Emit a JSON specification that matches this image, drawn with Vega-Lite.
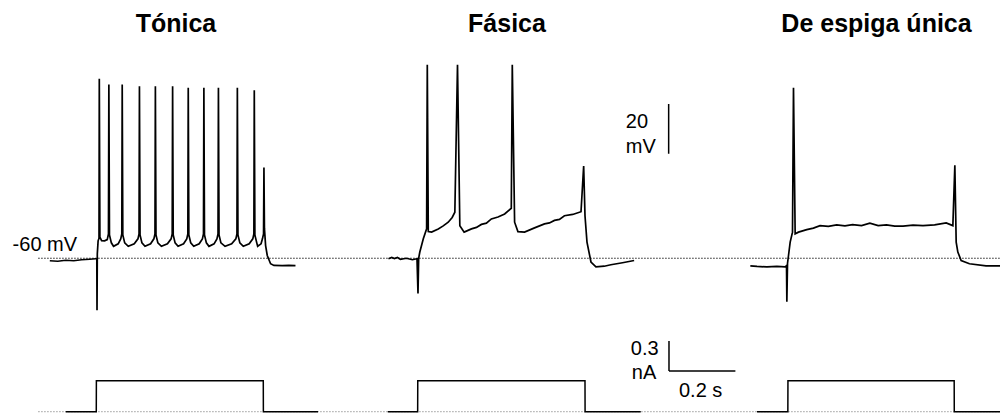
{
  "$schema": "https://vega.github.io/schema/vega-lite/v6.json",
  "width": 1004,
  "height": 415,
  "padding": 0,
  "autosize": {"type": "fit", "contains": "padding"},
  "background": "white",
  "config": {"view": {"stroke": null}},
  "datasets": {
    "vm": [
      {"panel": "Tónica", "t": 150, "v": -61.0}, {"panel": "Tónica", "t": 174, "v": -61.2}, {"panel": "Tónica", "t": 198, "v": -60.8},
      {"panel": "Tónica", "t": 222, "v": -61.0}, {"panel": "Tónica", "t": 246, "v": -60.6}, {"panel": "Tónica", "t": 270, "v": -60.4},
      {"panel": "Tónica", "t": 288, "v": -60.2}, {"panel": "Tónica", "t": 291.6, "v": -60.2}, {"panel": "Tónica", "t": 292.2, "v": -80.9},
      {"panel": "Tónica", "t": 293.1, "v": -58.2}, {"panel": "Tónica", "t": 295.5, "v": -53.0}, {"panel": "Tónica", "t": 298.2, "v": -52.0},
      {"panel": "Tónica", "t": 299.1, "v": 12.1}, {"panel": "Tónica", "t": 300.9, "v": -51.5}, {"panel": "Tónica", "t": 306, "v": -52.9},
      {"panel": "Tónica", "t": 315, "v": -53.0}, {"panel": "Tónica", "t": 323, "v": -52.5}, {"panel": "Tónica", "t": 326.7, "v": -50.2},
      {"panel": "Tónica", "t": 327.9, "v": 9.8}, {"panel": "Tónica", "t": 329.7, "v": -50.6}, {"panel": "Tónica", "t": 335.4, "v": -53.8},
      {"panel": "Tónica", "t": 342.0, "v": -55.2}, {"panel": "Tónica", "t": 356.0, "v": -54.2}, {"panel": "Tónica", "t": 363.6, "v": -52.2},
      {"panel": "Tónica", "t": 366.9, "v": -50.2}, {"panel": "Tónica", "t": 368.1, "v": 9.8}, {"panel": "Tónica", "t": 369.9, "v": -50.6},
      {"panel": "Tónica", "t": 375.6, "v": -53.8}, {"panel": "Tónica", "t": 386.3, "v": -55.2}, {"panel": "Tónica", "t": 404.4, "v": -54.2},
      {"panel": "Tónica", "t": 415.5, "v": -52.2}, {"panel": "Tónica", "t": 418.8, "v": -50.2}, {"panel": "Tónica", "t": 420, "v": 9.1},
      {"panel": "Tónica", "t": 421.8, "v": -50.6}, {"panel": "Tónica", "t": 427.5, "v": -53.8}, {"panel": "Tónica", "t": 436.8, "v": -55.2},
      {"panel": "Tónica", "t": 453.6, "v": -54.2}, {"panel": "Tónica", "t": 463.5, "v": -52.2}, {"panel": "Tónica", "t": 466.8, "v": -50.2},
      {"panel": "Tónica", "t": 468, "v": 9.1}, {"panel": "Tónica", "t": 469.8, "v": -50.6}, {"panel": "Tónica", "t": 475.5, "v": -53.8},
      {"panel": "Tónica", "t": 486.2, "v": -55.2}, {"panel": "Tónica", "t": 504.3, "v": -54.2}, {"panel": "Tónica", "t": 515.4, "v": -52.2},
      {"panel": "Tónica", "t": 518.7, "v": -50.2}, {"panel": "Tónica", "t": 519.9, "v": 9.1}, {"panel": "Tónica", "t": 521.7, "v": -50.6},
      {"panel": "Tónica", "t": 527.4, "v": -53.8}, {"panel": "Tónica", "t": 536.4, "v": -55.2}, {"panel": "Tónica", "t": 552.9, "v": -54.2},
      {"panel": "Tónica", "t": 562.5, "v": -52.2}, {"panel": "Tónica", "t": 565.8, "v": -50.2}, {"panel": "Tónica", "t": 567, "v": 8.5},
      {"panel": "Tónica", "t": 568.8, "v": -50.6}, {"panel": "Tónica", "t": 574.5, "v": -53.8}, {"panel": "Tónica", "t": 583.5, "v": -55.2},
      {"panel": "Tónica", "t": 600.0, "v": -54.2}, {"panel": "Tónica", "t": 609.6, "v": -52.2}, {"panel": "Tónica", "t": 612.9, "v": -50.2},
      {"panel": "Tónica", "t": 614.1, "v": 8.5}, {"panel": "Tónica", "t": 615.9, "v": -50.6}, {"panel": "Tónica", "t": 621.6, "v": -53.8},
      {"panel": "Tónica", "t": 629.4, "v": -55.2}, {"panel": "Tónica", "t": 644.8, "v": -54.2}, {"panel": "Tónica", "t": 653.4, "v": -52.2},
      {"panel": "Tónica", "t": 656.7, "v": -50.2}, {"panel": "Tónica", "t": 657.9, "v": 8.5}, {"panel": "Tónica", "t": 659.7, "v": -50.6},
      {"panel": "Tónica", "t": 665.4, "v": -53.8}, {"panel": "Tónica", "t": 677.9, "v": -55.2}, {"panel": "Tónica", "t": 697.8, "v": -54.2},
      {"panel": "Tónica", "t": 710.4, "v": -52.2}, {"panel": "Tónica", "t": 713.7, "v": -50.2}, {"panel": "Tónica", "t": 714.9, "v": 8.5},
      {"panel": "Tónica", "t": 716.7, "v": -50.6}, {"panel": "Tónica", "t": 722.4, "v": -53.8}, {"panel": "Tónica", "t": 732.8, "v": -55.2},
      {"panel": "Tónica", "t": 750.6, "v": -54.2}, {"panel": "Tónica", "t": 761.4, "v": -52.2}, {"panel": "Tónica", "t": 764.7, "v": -50.2},
      {"panel": "Tónica", "t": 765.9, "v": 7.5}, {"panel": "Tónica", "t": 767.7, "v": -50.6}, {"panel": "Tónica", "t": 773.4, "v": -53.8},
      {"panel": "Tónica", "t": 776.1, "v": -55.2}, {"panel": "Tónica", "t": 786.3, "v": -54.2}, {"panel": "Tónica", "t": 790.5, "v": -52.2},
      {"panel": "Tónica", "t": 793.8, "v": -50.2}, {"panel": "Tónica", "t": 795, "v": -23.5}, {"panel": "Tónica", "t": 796.5, "v": -48.0},
      {"panel": "Tónica", "t": 800, "v": -54.9}, {"panel": "Tónica", "t": 805, "v": -58.9}, {"panel": "Tónica", "t": 815, "v": -62.2},
      {"panel": "Tónica", "t": 825, "v": -62.9}, {"panel": "Tónica", "t": 850, "v": -63.0}, {"panel": "Tónica", "t": 870, "v": -62.9},
      {"panel": "Tónica", "t": 890, "v": -63.0},

      {"panel": "Fásica", "t": 1170, "v": -60.2}, {"panel": "Fásica", "t": 1180, "v": -59.7}, {"panel": "Fásica", "t": 1188, "v": -60.1},
      {"panel": "Fásica", "t": 1197, "v": -59.7}, {"panel": "Fásica", "t": 1206, "v": -60.4},
      {"panel": "Fásica", "t": 1224, "v": -60.0}, {"panel": "Fásica", "t": 1242, "v": -60.6}, {"panel": "Fásica", "t": 1256, "v": -60.2},
      {"panel": "Fásica", "t": 1259, "v": -74.2}, {"panel": "Fásica", "t": 1261, "v": -60.0}, {"panel": "Fásica", "t": 1264.5, "v": -57.5},
      {"panel": "Fásica", "t": 1275, "v": -52.2}, {"panel": "Fásica", "t": 1285, "v": -48.2}, {"panel": "Fásica", "t": 1287, "v": 17.8},
      {"panel": "Fásica", "t": 1290, "v": -49.3}, {"panel": "Fásica", "t": 1300, "v": -49.5}, {"panel": "Fásica", "t": 1320, "v": -48.2},
      {"panel": "Fásica", "t": 1335, "v": -47.0}, {"panel": "Fásica", "t": 1350, "v": -45.5}, {"panel": "Fásica", "t": 1362, "v": -43.6},
      {"panel": "Fásica", "t": 1370, "v": -41.5}, {"panel": "Fásica", "t": 1378, "v": 17.8}, {"panel": "Fásica", "t": 1385, "v": -46.9},
      {"panel": "Fásica", "t": 1398, "v": -49.5}, {"panel": "Fásica", "t": 1420, "v": -48.2}, {"panel": "Fásica", "t": 1435, "v": -47.6},
      {"panel": "Fásica", "t": 1450, "v": -46.4}, {"panel": "Fásica", "t": 1465, "v": -45.9},
      {"panel": "Fásica", "t": 1480, "v": -44.2}, {"panel": "Fásica", "t": 1500, "v": -43.4}, {"panel": "Fásica", "t": 1520, "v": -42.2},
      {"panel": "Fásica", "t": 1540, "v": -39.9}, {"panel": "Fásica", "t": 1543, "v": 17.8}, {"panel": "Fásica", "t": 1550, "v": -45.5},
      {"panel": "Fásica", "t": 1560, "v": -49.3}, {"panel": "Fásica", "t": 1580, "v": -49.5}, {"panel": "Fásica", "t": 1610, "v": -47.8},
      {"panel": "Fásica", "t": 1640, "v": -46.2}, {"panel": "Fásica", "t": 1655, "v": -45.8}, {"panel": "Fásica", "t": 1670, "v": -44.8},
      {"panel": "Fásica", "t": 1685, "v": -44.4}, {"panel": "Fásica", "t": 1700, "v": -42.9},
      {"panel": "Fásica", "t": 1725, "v": -42.4}, {"panel": "Fásica", "t": 1750, "v": -41.3}, {"panel": "Fásica", "t": 1758, "v": -22.9},
      {"panel": "Fásica", "t": 1762, "v": -42.9}, {"panel": "Fásica", "t": 1768, "v": -53.5}, {"panel": "Fásica", "t": 1780, "v": -61.5},
      {"panel": "Fásica", "t": 1795, "v": -63.5}, {"panel": "Fásica", "t": 1820, "v": -63.2}, {"panel": "Fásica", "t": 1840, "v": -62.6},
      {"panel": "Fásica", "t": 1875, "v": -61.8}, {"panel": "Fásica", "t": 1910, "v": -60.9},

      {"panel": "De espiga única", "t": 2260, "v": -63.1}, {"panel": "De espiga única", "t": 2280, "v": -63.3}, {"panel": "De espiga única", "t": 2310, "v": -63.5},
      {"panel": "De espiga única", "t": 2340, "v": -63.3}, {"panel": "De espiga única", "t": 2365, "v": -63.5}, {"panel": "De espiga única", "t": 2369, "v": -63.0},
      {"panel": "De espiga única", "t": 2370, "v": -77.5}, {"panel": "De espiga única", "t": 2372, "v": -62.0}, {"panel": "De espiga única", "t": 2375, "v": -58.9},
      {"panel": "De espiga única", "t": 2380, "v": -53.5}, {"panel": "De espiga única", "t": 2387, "v": -49.5}, {"panel": "De espiga única", "t": 2390, "v": 8.5},
      {"panel": "De espiga única", "t": 2395, "v": -50.2}, {"panel": "De espiga única", "t": 2405, "v": -49.5}, {"panel": "De espiga única", "t": 2430, "v": -48.5},
      {"panel": "De espiga única", "t": 2450, "v": -47.9}, {"panel": "De espiga única", "t": 2470, "v": -46.9}, {"panel": "De espiga única", "t": 2495, "v": -47.2},
      {"panel": "De espiga única", "t": 2520, "v": -46.6}, {"panel": "De espiga única", "t": 2545, "v": -47.0}, {"panel": "De espiga única", "t": 2568, "v": -46.5},
      {"panel": "De espiga única", "t": 2595, "v": -46.9}, {"panel": "De espiga única", "t": 2620, "v": -45.9}, {"panel": "De espiga única", "t": 2645, "v": -46.9},
      {"panel": "De espiga única", "t": 2670, "v": -46.6}, {"panel": "De espiga única", "t": 2695, "v": -47.1}, {"panel": "De espiga única", "t": 2720, "v": -47.1},
      {"panel": "De espiga única", "t": 2750, "v": -46.7}, {"panel": "De espiga única", "t": 2780, "v": -46.9}, {"panel": "De espiga única", "t": 2815, "v": -46.6},
      {"panel": "De espiga única", "t": 2850, "v": -45.8}, {"panel": "De espiga única", "t": 2870, "v": -46.9},
      {"panel": "De espiga única", "t": 2876, "v": -22.6}, {"panel": "De espiga única", "t": 2880, "v": -53.5}, {"panel": "De espiga única", "t": 2885, "v": -57.5},
      {"panel": "De espiga única", "t": 2895, "v": -60.9}, {"panel": "De espiga única", "t": 2920, "v": -62.2}, {"panel": "De espiga única", "t": 2970, "v": -63.1},
      {"panel": "De espiga única", "t": 3012, "v": -63.1}
    ],
    "im": [
      {"panel": "Tónica", "t": 198, "i": 0}, {"panel": "Tónica", "t": 290, "i": 0}, {"panel": "Tónica", "t": 290.3, "i": 0.31},
      {"panel": "Tónica", "t": 793, "i": 0.31}, {"panel": "Tónica", "t": 793.3, "i": 0}, {"panel": "Tónica", "t": 958, "i": 0},
      {"panel": "Fásica", "t": 1168, "i": 0}, {"panel": "Fásica", "t": 1258, "i": 0}, {"panel": "Fásica", "t": 1258.3, "i": 0.31},
      {"panel": "Fásica", "t": 1762, "i": 0.31}, {"panel": "Fásica", "t": 1762.3, "i": 0}, {"panel": "Fásica", "t": 1930, "i": 0},
      {"panel": "De espiga única", "t": 2280, "i": 0}, {"panel": "De espiga única", "t": 2373, "i": 0}, {"panel": "De espiga única", "t": 2373.3, "i": 0.31},
      {"panel": "De espiga única", "t": 2874, "i": 0.31}, {"panel": "De espiga única", "t": 2874.3, "i": 0}, {"panel": "De espiga única", "t": 3012, "i": 0}
    ],
    "vref": [{"t": 115, "v": -60}, {"t": 3012, "v": -60}],
    "iref": [{"t": 115, "i": 0}, {"t": 3012, "i": 0}],
    "vbar": [{"t": 2014, "v1": 2.0, "v2": -18.0}],
    "ibarv": [{"t": 2015, "i1": 0.41, "i2": 0.71}],
    "ibarh": [{"t1": 2015, "t2": 2215, "i": 0.41}],
    "titles": [
      {"label": "Tónica", "t": 530, "v": 31.1},
      {"label": "Fásica", "t": 1527, "v": 31.1},
      {"label": "De espiga única", "t": 2640, "v": 31.1}
    ],
    "labels": [
      {"label": "-60 mV", "t": 38, "v": -56.9},
      {"label": "20", "t": 1885, "v": -7.5},
      {"label": "mV", "t": 1885, "v": -17.5},
      {"label": "0.3", "t": 1900, "v": -98.9},
      {"label": "nA", "t": 1903, "v": -108.5},
      {"label": "0.2 s", "t": 2045, "v": -115.8}
    ]
  },
  "resolve": {"scale": {"y": "independent"}},
  "layer": [
    {
      "data": {"name": "iref"},
      "mark": {"type": "line", "color": "#9a9a9a", "strokeWidth": 1, "strokeDash": [1.5, 1.5]},
      "encoding": {
        "x": {"field": "t", "type": "quantitative", "scale": {"domain": [0, 3012], "nice": false, "zero": false}, "axis": null},
        "y": {"field": "i", "type": "quantitative", "scale": {"domain": [-0.013, 4.137], "nice": false, "zero": false}, "axis": null}
      }
    },
    {
      "data": {"name": "im"},
      "mark": {"type": "line", "color": "black", "strokeWidth": 1.5},
      "encoding": {
        "x": {"field": "t", "type": "quantitative", "scale": {"domain": [0, 3012], "nice": false, "zero": false}, "axis": null},
        "y": {"field": "i", "type": "quantitative", "scale": {"domain": [-0.013, 4.137], "nice": false, "zero": false}, "axis": null},
        "detail": {"field": "panel"}
      }
    },
    {
      "data": {"name": "ibarv"},
      "mark": {"type": "rule", "color": "black", "strokeWidth": 1.5},
      "encoding": {
        "x": {"field": "t", "type": "quantitative", "scale": {"domain": [0, 3012], "nice": false, "zero": false}, "axis": null},
        "y": {"field": "i1", "type": "quantitative", "scale": {"domain": [-0.013, 4.137], "nice": false, "zero": false}, "axis": null},
        "y2": {"field": "i2"}
      }
    },
    {
      "data": {"name": "ibarh"},
      "mark": {"type": "rule", "color": "black", "strokeWidth": 1.5},
      "encoding": {
        "x": {"field": "t1", "type": "quantitative", "scale": {"domain": [0, 3012], "nice": false, "zero": false}, "axis": null},
        "x2": {"field": "t2"},
        "y": {"field": "i", "type": "quantitative", "scale": {"domain": [-0.013, 4.137], "nice": false, "zero": false}, "axis": null}
      }
    },
    {
      "data": {"name": "vref"},
      "mark": {"type": "line", "color": "#222222", "strokeWidth": 1, "strokeDash": [1.5, 1.5]},
      "encoding": {
        "x": {"field": "t", "type": "quantitative", "scale": {"domain": [0, 3012], "nice": false, "zero": false}, "axis": null},
        "y": {"field": "v", "type": "quantitative", "scale": {"domain": [-122.2, 43.8], "nice": false, "zero": false}, "axis": null}
      }
    },
    {
      "data": {"name": "vm"},
      "mark": {"type": "line", "color": "black", "strokeWidth": 1.7},
      "encoding": {
        "x": {"field": "t", "type": "quantitative", "scale": {"domain": [0, 3012], "nice": false, "zero": false}, "axis": null},
        "y": {"field": "v", "type": "quantitative", "scale": {"domain": [-122.2, 43.8], "nice": false, "zero": false}, "axis": null},
        "detail": {"field": "panel"}
      }
    },
    {
      "data": {"name": "vbar"},
      "mark": {"type": "rule", "color": "black", "strokeWidth": 1.5},
      "encoding": {
        "x": {"field": "t", "type": "quantitative", "scale": {"domain": [0, 3012], "nice": false, "zero": false}, "axis": null},
        "y": {"field": "v1", "type": "quantitative", "scale": {"domain": [-122.2, 43.8], "nice": false, "zero": false}, "axis": null},
        "y2": {"field": "v2"}
      }
    },
    {
      "data": {"name": "titles"},
      "mark": {"type": "text", "font": "Liberation Sans", "fontWeight": "bold", "fontSize": 25, "align": "center", "baseline": "alphabetic", "color": "black"},
      "encoding": {
        "x": {"field": "t", "type": "quantitative", "scale": {"domain": [0, 3012], "nice": false, "zero": false}, "axis": null},
        "y": {"field": "v", "type": "quantitative", "scale": {"domain": [-122.2, 43.8], "nice": false, "zero": false}, "axis": null},
        "text": {"field": "label"}
      }
    },
    {
      "data": {"name": "labels"},
      "mark": {"type": "text", "font": "Liberation Sans", "fontSize": 20, "align": "left", "baseline": "alphabetic", "color": "black"},
      "encoding": {
        "x": {"field": "t", "type": "quantitative", "scale": {"domain": [0, 3012], "nice": false, "zero": false}, "axis": null},
        "y": {"field": "v", "type": "quantitative", "scale": {"domain": [-122.2, 43.8], "nice": false, "zero": false}, "axis": null},
        "text": {"field": "label"}
      }
    }
  ]
}
